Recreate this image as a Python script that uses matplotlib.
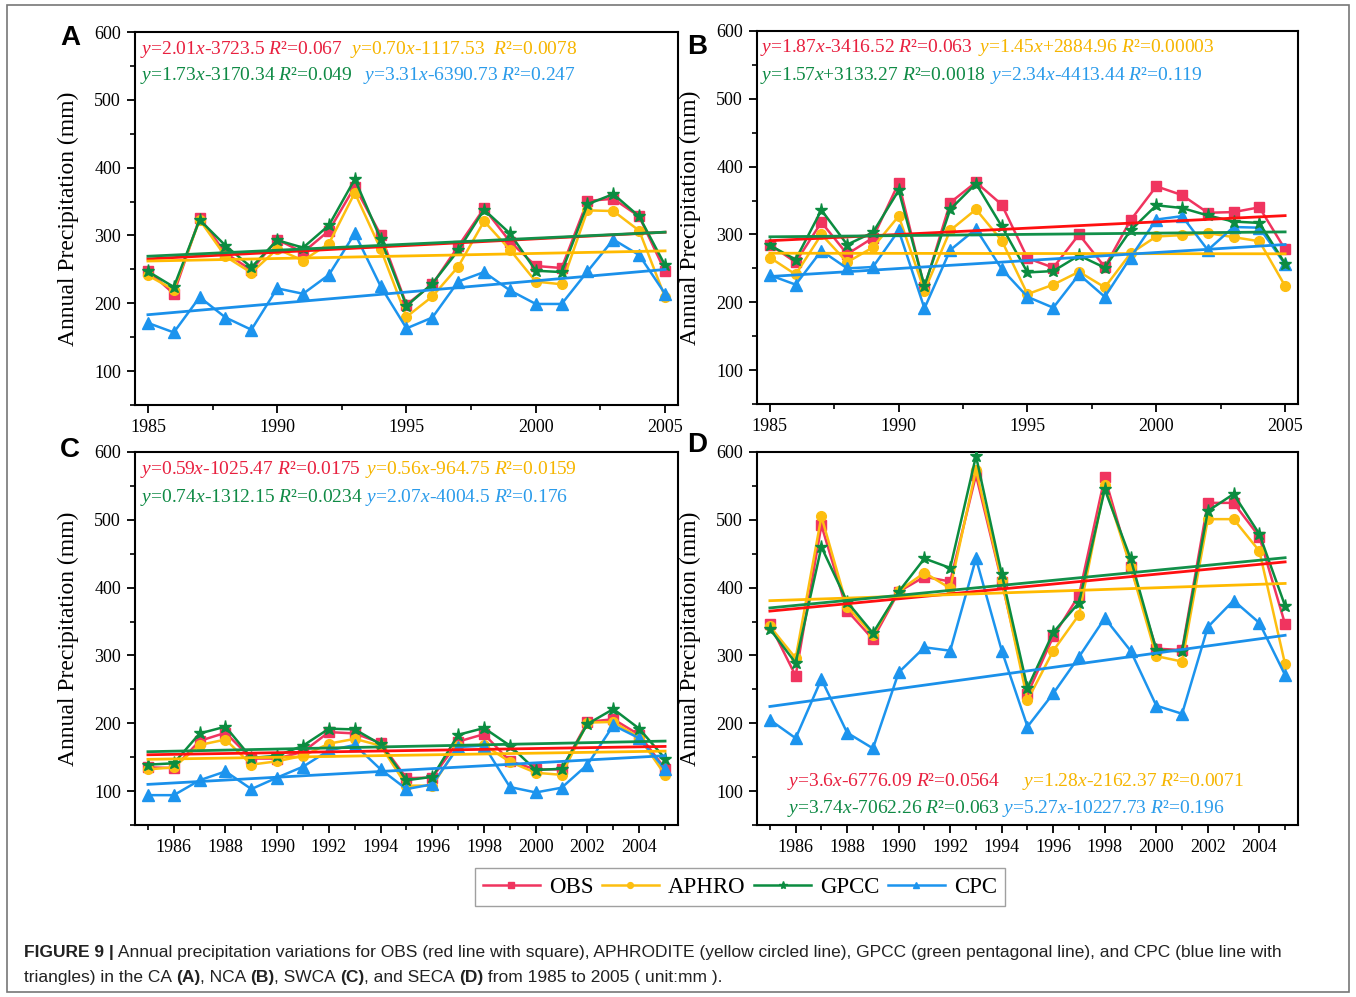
import numpy as np
import matplotlib
matplotlib.use("Agg")
import matplotlib.pyplot as plt
from matplotlib.patches import Rectangle
from matplotlib.lines import Line2D
from matplotlib.ticker import MultipleLocator

# ---------------- data ----------------
years = np.arange(1985, 2006)
series_names = ["OBS", "APHRO", "GPCC", "CPC"]

# CA
obs_A = [248, 214, 326, 274, 249, 294, 275, 307, 372, 301, 198, 228, 284, 340, 291, 255, 252, 351, 354, 328, 247]
aphro_A = [241, 220, 323, 269, 245, 280, 263, 288, 363, 280, 180, 210, 254, 321, 279, 232, 228, 337, 336, 307, 209]
gpcc_A = [247, 224, 323, 285, 253, 293, 282, 315, 383, 295, 196, 229, 278, 338, 303, 248, 246, 346, 361, 328, 256]
cpc_A = [171, 157, 209, 179, 161, 222, 214, 242, 303, 225, 163, 179, 232, 246, 219, 199, 199, 247, 294, 271, 214]

# NCA
obs_B = [285, 259, 318, 271, 295, 376, 222, 347, 377, 344, 265, 251, 300, 252, 321, 371, 358, 332, 333, 340, 278]
aphro_B = [266, 241, 300, 259, 281, 327, 217, 306, 337, 291, 212, 226, 245, 222, 272, 297, 299, 302, 296, 290, 224]
gpcc_B = [284, 263, 336, 285, 303, 365, 224, 337, 375, 312, 244, 246, 269, 251, 306, 343, 339, 328, 319, 317, 257]
cpc_B = [240, 226, 276, 250, 252, 306, 191, 277, 308, 249, 208, 192, 241, 208, 266, 322, 327, 277, 311, 310, 256]

# SWCA
obs_C = [135, 134, 174, 186, 148, 148, 158, 187, 185, 171, 119, 120, 173, 184, 144, 132, 132, 202, 206, 183, 133]
aphro_C = [132, 135, 168, 176, 139, 144, 152, 170, 177, 167, 108, 108, 167, 168, 143, 127, 124, 201, 202, 179, 124]
gpcc_C = [139, 141, 185, 195, 149, 152, 167, 192, 191, 169, 116, 121, 183, 193, 167, 131, 133, 199, 221, 192, 148]
cpc_C = [94, 94, 116, 129, 103, 120, 136, 160, 168, 132, 103, 110, 165, 167, 106, 98, 105, 139, 197, 178, 132]

# SECA
obs_D = [346, 270, 492, 366, 324, 394, 416, 409, 566, 409, 243, 328, 389, 563, 431, 310, 308, 525, 525, 475, 346]
aphro_D = [343, 296, 505, 372, 330, 395, 422, 399, 574, 411, 234, 307, 360, 551, 431, 299, 291, 501, 501, 454, 287]
gpcc_D = [339, 289, 460, 379, 333, 394, 443, 429, 594, 420, 252, 334, 378, 545, 443, 308, 306, 513, 538, 479, 373]
cpc_D = [205, 178, 265, 186, 163, 275, 312, 307, 443, 307, 195, 244, 298, 355, 307, 226, 214, 342, 381, 348, 271]

# regression labels, in series order
eq_A = [r"$y$=2.01$x$-3723.5 $R$²=0.067", r"$y$=0.70$x$-1117.53  $R$²=0.0078",
        r"$y$=1.73$x$-3170.34 $R$²=0.049", r"$y$=3.31$x$-6390.73 $R$²=0.247"]
eq_B = [r"$y$=1.87$x$-3416.52 $R$²=0.063", r"$y$=1.45$x$+2884.96 $R$²=0.00003",
        r"$y$=1.57$x$+3133.27 $R$²=0.0018", r"$y$=2.34$x$-4413.44 $R$²=0.119"]
eq_C = [r"$y$=0.59$x$-1025.47 $R$²=0.0175", r"$y$=0.56$x$-964.75 $R$²=0.0159",
        r"$y$=0.74$x$-1312.15 $R$²=0.0234", r"$y$=2.07$x$-4004.5 $R$²=0.176"]
eq_D = [r"$y$=3.6$x$-6776.09 $R$²=0.0564", r"$y$=1.28$x$-2162.37 $R$²=0.0071",
        r"$y$=3.74$x$-7062.26 $R$²=0.063", r"$y$=5.27$x$-10227.73 $R$²=0.196"]

# ---------------- style ----------------
plt.rcParams.update({
    "font.family": "Liberation Serif",
    "mathtext.fontset": "custom",
    "mathtext.rm": "Liberation Serif",
    "mathtext.it": "Liberation Serif:italic",
    "mathtext.bf": "Liberation Serif:bold",
})

line_colors = ["#F0345F", "#FDBE10", "#0B8C40", "#1C94EE"]
trend_colors = ["#FF1010", "#FFBA00", "#12904A", "#1A90EA"]
text_colors = ["#E8203F", "#F6B500", "#0F8A45", "#2A9BEA"]
markers = ["s", "o", "*", "^"]
msizes = [6.5, 7, 9.5, 8]

W, H = 1356, 997
fig = plt.figure(figsize=(W / 100, H / 100), dpi=100)


def px_axes(left, top, right, bottom):
    return fig.add_axes([left / W, 1 - bottom / H, (right - left) / W, (bottom - top) / H])


def draw_panel(ax, data, equations, eq_pos, two_year):
    for k, vals in enumerate(data):
        ax.plot(years, vals, color=line_colors[k], marker=markers[k], ms=msizes[k],
                lw=1.8, mec=line_colors[k], mfc=line_colors[k], zorder=3 + (k == 2))
    ends = years[[0, -1]]
    for k, vals in enumerate(data):
        fit = np.polyfit(years, vals, 1)
        ax.plot(ends, np.polyval(fit, ends), color=trend_colors[k], lw=2.0, zorder=5)
    ax.set_xlim(1984.5, 2005.5)
    ax.set_ylim(50, 600)
    ax.yaxis.set_minor_locator(MultipleLocator(50))
    if two_year:
        ax.set_xticks(np.arange(1986, 2005, 2))
        ax.xaxis.set_minor_locator(MultipleLocator(1))
    else:
        ax.set_xticks(np.arange(1985, 2006, 5))
        ax.xaxis.set_minor_locator(MultipleLocator(2.5))
    ax.set_yticks([100, 200, 300, 400, 500, 600])
    ax.tick_params(which="major", direction="out", length=6, width=1.3, labelsize=13, pad=4)
    ax.tick_params(which="minor", direction="out", length=3.5, width=1.2)
    for s in ax.spines.values():
        s.set_linewidth(1.5)
    ax.set_ylabel("Annual Precipitation (mm)", fontsize=17, labelpad=11)
    for k, (x, y) in enumerate(eq_pos):
        fig.text(x / W, 1 - y / H, equations[k], color=text_colors[k], fontsize=14,
                 ha="left", va="center")


axA = px_axes(135, 32, 678, 405)
axB = px_axes(757, 31, 1298, 404)
axC = px_axes(135, 452, 678, 825)
axD = px_axes(757, 452, 1298, 825)

draw_panel(axA, [obs_A, aphro_A, gpcc_A, cpc_A], eq_A,
           [(140, 49), (350, 49), (140, 76), (363, 76)], False)
draw_panel(axB, [obs_B, aphro_B, gpcc_B, cpc_B], eq_B,
           [(760, 48), (978, 48), (760, 76), (990, 76)], False)
draw_panel(axC, [obs_C, aphro_C, gpcc_C, cpc_C], eq_C,
           [(140, 470), (365, 470), (140, 497), (365, 497)], True)
draw_panel(axD, [obs_D, aphro_D, gpcc_D, cpc_D], eq_D,
           [(787, 781), (1022, 781), (787, 808), (1002, 808)], True)

# panel letters
for letter, (x, y) in zip("ABCD", [(70, 38), (697, 47), (70, 450), (697, 445)]):
    fig.text(x / W, 1 - y / H, letter, family="Liberation Sans", fontweight="bold",
             fontsize=20, ha="center", va="center")

# shared legend
handles = [Line2D([], [], color=line_colors[k], marker=markers[k], ms=msizes[k] * 0.6,
                  lw=1.8) for k in range(4)]
fig.legend(handles, series_names, loc="center", bbox_to_anchor=(740 / W, 1 - 887 / H),
           ncol=4, fontsize=16.5, frameon=True, fancybox=False, edgecolor="#888888",
           handlelength=2.5, handletextpad=0.4, columnspacing=0.35, borderpad=0.35,
           borderaxespad=0.0)

# caption, written as bold / regular runs
renderer = fig.canvas.get_renderer()


def text_runs(x, y, parts):
    for s, bold in parts:
        t = fig.text(x / W, 1 - y / H, s, family="Liberation Sans", fontsize=12.5,
                     fontweight="bold" if bold else "normal", color="#222222",
                     ha="left", va="center")
        x += t.get_window_extent(renderer).width


text_runs(24, 952, [("FIGURE 9 |", True),
                    (" Annual precipitation variations for OBS (red line with square), APHRODITE "
                     "(yellow circled line), GPCC (green pentagonal line), and CPC (blue line with",
                     False)])
text_runs(24, 977, [("triangles) in the CA ", False), ("(A)", True), (", NCA ", False),
                    ("(B)", True), (", SWCA ", False), ("(C)", True), (", and SECA ", False),
                    ("(D)", True), (" from 1985 to 2005 ( unit:mm ).", False)])

# outer frame
fig.patches.append(Rectangle((7 / W, 5 / H), 1342 / W, 987 / H, transform=fig.transFigure,
                             fill=False, edgecolor="#777777", lw=1.2))

fig.savefig("out.png", dpi=100)
